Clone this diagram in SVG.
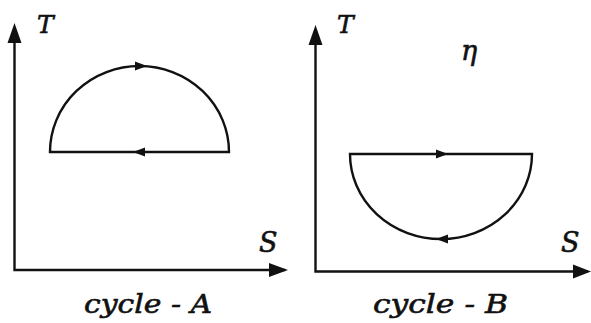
<svg xmlns="http://www.w3.org/2000/svg" width="591" height="323" viewBox="0 0 591 323">
<style>
.ln{fill:none;stroke:#111;stroke-width:2.4}
.lbl{font-family:"DejaVu Serif","Liberation Serif",serif;font-style:italic;fill:#111;stroke:#111;stroke-width:0.6}
.t{font-size:25px}
.s{font-size:27px}
.cap{font-family:"DejaVu Serif","Liberation Serif",serif;font-style:italic;font-size:26px;fill:#111;stroke:#111;stroke-width:0.6}
.ah{fill:#111}
</style>
<rect width="591" height="323" fill="#fff"/>
<g id="panelA">
  <g id="axesA">
    <path class="ln" d="M14.5,40 V270 H285"/>
    <polygon class="ah" points="14.5,23 7.5,43 21.5,43"/>
    <polygon class="ah" points="288,270 269,263 269,277"/>
  </g>
  <g id="cycleA">
    <path class="ln" d="M50,152 A89.5,86 0 0 1 229,152 Z"/>
    <polygon class="ah" points="147,66 135,61.5 135,70.5"/>
    <polygon class="ah" points="133,152 145,147.5 145,156.5"/>
  </g>
  <text class="lbl t" x="37" y="33">T</text>
  <text class="lbl s" x="259" y="252">S</text>
  <text class="cap" x="84" y="313" textLength="128" lengthAdjust="spacingAndGlyphs">cycle - A</text>
</g>
<g id="panelB">
  <g id="axesB">
    <path class="ln" d="M315.5,42 V271.5 H588"/>
    <polygon class="ah" points="315.5,25 308.5,45 322.5,45"/>
    <polygon class="ah" points="591,271.5 573,264.5 573,278.5"/>
  </g>
  <g id="cycleB">
    <path class="ln" d="M350,154 A91,85 0 0 0 532,154 Z"/>
    <polygon class="ah" points="448,154 436,149.5 436,158.5"/>
    <polygon class="ah" points="436,239 448,234.5 448,243.5"/>
  </g>
  <text class="lbl t" x="337" y="33">T</text>
  <text class="lbl s" x="461" y="60">η</text>
  <text class="lbl s" x="561" y="252">S</text>
  <text class="cap" x="373" y="313" textLength="135" lengthAdjust="spacingAndGlyphs">cycle - B</text>
</g>
</svg>
